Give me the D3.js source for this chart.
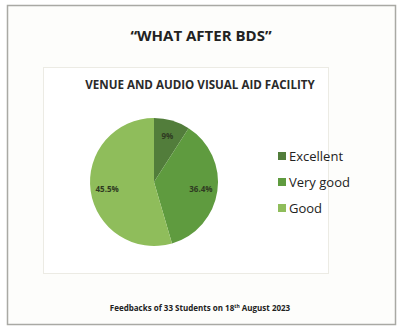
<!DOCTYPE html>
<html>
<head>
<meta charset="utf-8">
<script src="https://cdn.jsdelivr.net/npm/d3@7"></script>
<style>
  body { margin: 0; background: #fff; }
  svg { display: block; }
</style>
</head>
<body>
<svg id="chart" width="397" height="327"></svg>
<script>
// rating data: students per rating (33 total)
var categories = ["Excellent", "Very good", "Good"];
var counts = [3, 12, 18];
var sliceLabels = ["9%", "36.4%", "45.5%"];
var colors = ["#527d3b", "#5f9b3f", "#8fbd5b"];

(function(){
    var svg = d3.select("#chart");

    // outer page frame
    svg.append("rect")
        .attr("x", 7.5).attr("y", 5.5)
        .attr("width", 388).attr("height", 319)
        .attr("fill", "#fdfdfb")
        .attr("stroke", "#a9a9a4")
        .attr("stroke-width", 1.5);

    // inner chart box
    svg.append("rect")
        .attr("x", 43.5).attr("y", 67.5)
        .attr("width", 285).attr("height", 206)
        .attr("fill", "#ffffff")
        .attr("stroke", "#ecebe4")
        .attr("stroke-width", 1);

    svg.append("text")
        .attr("x", 201).attr("y", 41)
        .attr("text-anchor", "middle")
        .style("font-family", "'Open Sans', sans-serif")
        .style("font-size", "15px")
        .style("font-weight", "bold")
        .attr("fill", "#222")
        .text("\u201CWHAT AFTER BDS\u201D");

    svg.append("text")
        .attr("x", 200).attr("y", 89)
        .attr("text-anchor", "middle")
        .style("font-family", "'Open Sans', sans-serif")
        .style("font-size", "11.6px")
        .style("font-weight", "bold")
        .attr("fill", "#2a2a2a")
        .text("VENUE AND AUDIO VISUAL AID FACILITY");

    var cx = 154, cy = 182, r = 64;
    var pie = d3.pie().sort(null).value(function(d){ return d; });
    var arc = d3.arc().innerRadius(0).outerRadius(r);
    var labelArc = d3.arc().innerRadius(r * 0.74).outerRadius(r * 0.74);

    var g = svg.append("g")
        .attr("transform", "translate(" + cx + "," + cy + ")");

    var slices = g.selectAll(".slice")
        .data(pie(counts))
        .enter().append("g")
        .attr("class", "slice");

    slices.append("path")
        .attr("d", arc)
        .attr("fill", function(d, i){ return colors[i]; });

    slices.append("text")
        .attr("transform", function(d){ return "translate(" + labelArc.centroid(d) + ")"; })
        .attr("text-anchor", "middle")
        .attr("dy", "0.35em")
        .style("font-family", "'Open Sans', sans-serif")
        .style("font-size", "8px")
        .style("font-weight", "bold")
        .attr("fill", "#2f3a22")
        .text(function(d, i){ return sliceLabels[i]; });

    // legend
    var legend = svg.append("g");
    for (var i = 0; i < categories.length; i++){
        legend.append("rect")
            .attr("x", 278)
            .attr("y", 152 + i * 26)
            .attr("width", 8).attr("height", 8)
            .attr("fill", colors[i]);
        legend.append("text")
            .attr("x", 289)
            .attr("y", 156 + i * 26)
            .attr("dy", "0.35em")
            .style("font-family", "'Open Sans', sans-serif")
            .style("font-size", "13px")
            .attr("fill", "#222")
            .text(categories[i]);
    }

    svg.append("text")
        .attr("x", 200).attr("y", 311)
        .style("font-family", "'Open Sans', sans-serif")
        .style("font-size", "8px")
        .style("font-weight", "bold")
        .attr("text-anchor", "middle")
        .attr("fill", "#222")
        .text("Feedbacks of 33 Students on 18")
        .append("tspan")
        .attr("dy", "-3")
        .style("font-size", "5px")
        .text("th")
        .select(function(){ return this.parentNode; })
        .append("tspan")
        .attr("dy", "3")
        .text(" August 2023");
})();
</script>
</body>
</html>
